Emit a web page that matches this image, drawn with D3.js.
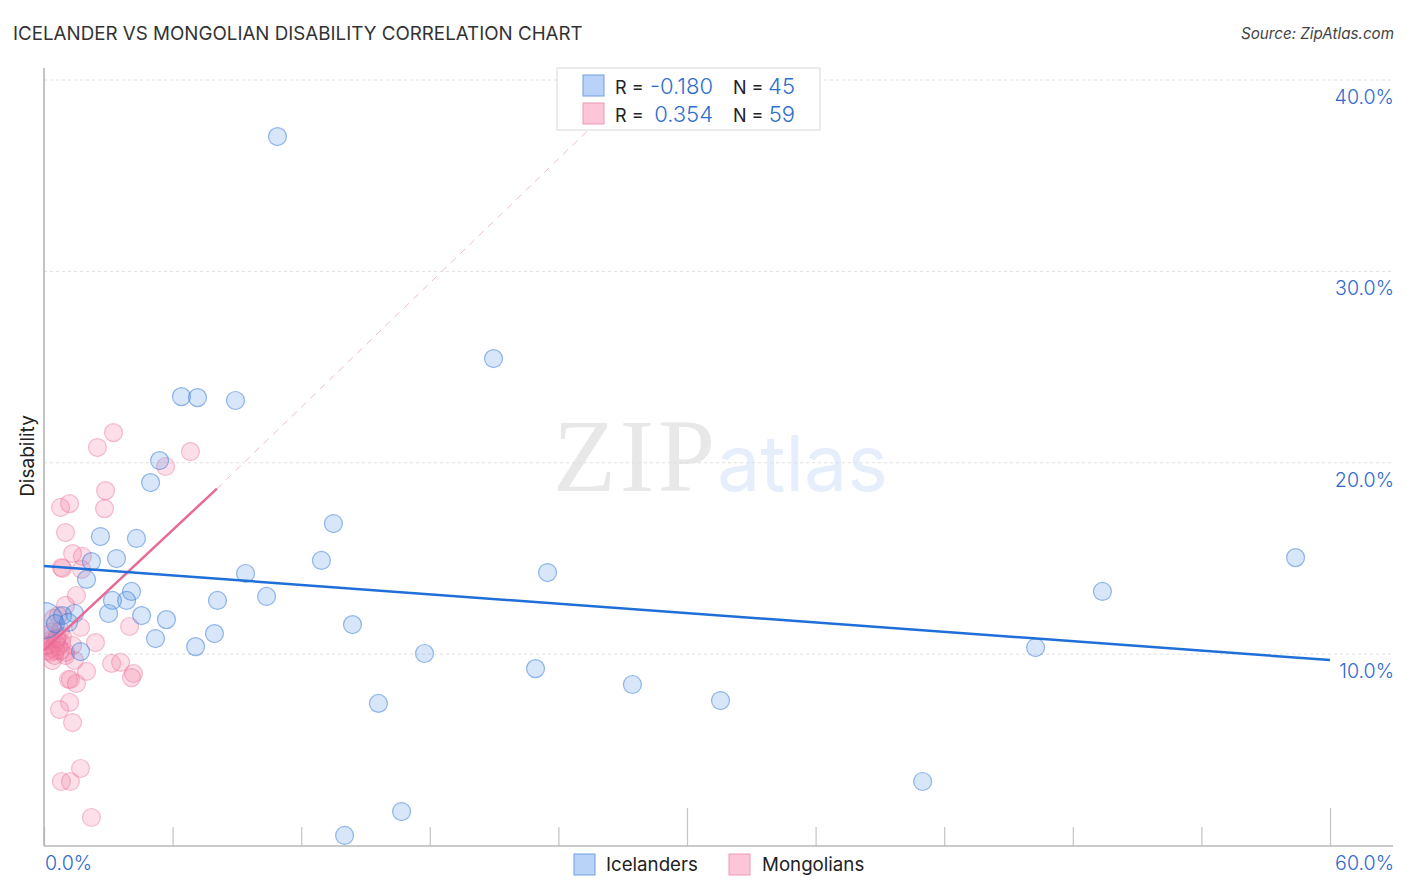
<!DOCTYPE html>
<html>
<head>
	<meta charset="utf-8" />
	<title>Icelander vs Mongolian Disability</title>
	<style type="text/css">
	*{margin:0px;padding:0px;}
	body{background:#fff;}
	svg{display:block;font-family:Inter,"Noto Sans",sans-serif;}
	</style>
</head>
<body>
	<div id="chart"></div>
	<script src="https://cdn.jsdelivr.net/npm/d3@7"></script>
	<script type="text/javascript">
	// values, in percent
	var iceX = [10.87,20.95,6.39,7.14,8.91,5.37,4.95,13.48,2.61,4.29,3.36,2.19,12.92,1.96,9.38,23.47,58.37,49.36,4.06,3.17,3.83,8.07,10.36,2.99,4.53,5.69,1.40,14.37,7.93,5.18,7.05,17.73,22.91,46.24,27.43,31.54,15.58,40.97,16.66,14.00,1.68,0.0,0.84,0.51,1.12];
	var iceY = [37.07,25.47,23.48,23.43,23.28,20.14,18.99,16.85,16.17,16.07,15.02,14.86,14.92,13.93,14.24,14.29,15.07,13.30,13.30,12.83,12.83,12.83,13.04,12.15,12.04,11.83,12.15,11.57,11.10,10.84,10.42,10.06,9.27,10.37,8.44,7.60,7.45,3.37,1.80,0.55,10.16,11.78,12.04,11.62,11.68];
	var monX = [3.22,2.47,5.65,6.81,2.85,1.17,0.75,2.80,0.98,1.31,1.77,0.79,0.84,1.73,1.49,0.98,1.68,3.97,2.38,3.13,3.55,4.15,4.06,1.96,1.12,1.21,1.49,1.17,0.70,1.31,1.68,0.79,1.21,2.19,0.37,0.98,1.40,0.42,0.65,0.75,0.84,0.28,0.19,0.37,0.51,0.09,0.14,0.28,0.51,0.65,0.98,1.31,0.80,0.60,0.28,0.47,0.09,0.75,0.56];
	var monY = [21.60,20.82,19.83,20.61,18.57,17.89,17.69,17.63,16.38,15.28,15.13,14.55,14.50,14.45,13.09,12.57,11.42,11.47,10.63,9.54,9.59,9.01,8.80,9.12,8.70,8.70,8.49,7.50,7.13,6.45,4.05,3.37,3.37,1.49,9.69,9.95,9.69,11.89,12.04,11.26,10.95,10.74,10.48,10.32,10.21,11.00,10.21,11.16,10.63,10.42,10.11,10.48,10.60,10.90,10.11,9.95,10.48,10.21,10.84];
	var iceTrend = [[0,14.6],[60,9.69]];
	var monTrend = [[0,10.2],[8.07,18.65]];
	var monDash = [[8.07,18.65],[28,40.2]];
	var xTicks = [0,6,12,18,24,30,36,42,48,54,60];
	var yTicks = [10,20,30,40];

	var width = 1406, height = 892;
	var x = d3.scaleLinear().domain([0,60]).range([44,1330]);
	var y = d3.scaleLinear().domain([0,40]).range([845.5,80]);

	var svg = d3.select("#chart").append("svg").attr("width",width).attr("height",height);

	svg.append("clipPath").attr("id","plot").append("rect")
		.attr("x",44).attr("y",68).attr("width",1349).attr("height",778);

	// watermark
	svg.append("text").attr("x",553).attr("y",491).attr("font-family","Liberation Serif")
		.attr("font-size",103).attr("fill","#e8e8e8").attr("textLength",162).text("ZIP");
	svg.append("text").attr("x",717).attr("y",491).attr("font-family","Inter")
		.attr("font-size",77).attr("fill","#e6eefb").text("atlas");

	// gridlines
	svg.selectAll(".grid").data(yTicks).enter().append("line")
		.attr("x1",44).attr("x2",1393)
		.attr("y1",function(d){return y(d);}).attr("y2",function(d){return y(d);})
		.attr("stroke","#e0e0e0").attr("stroke-dasharray","3,3");

	// axes
	var xAxis = d3.axisBottom(x).tickValues(xTicks).tickSize(-19).tickFormat("");
	var gx = svg.append("g").attr("transform","translate(0,846)").call(xAxis);
	gx.select(".domain").remove();
	gx.selectAll("line").attr("stroke","#c4c4c4").attr("stroke-width",1.2);
	gx.selectAll(".tick line").attr("y2",function(d){return (d==30||d==60)?-38:-19;});
	svg.append("line").attr("x1",44).attr("x2",1393).attr("y1",846).attr("y2",846).attr("stroke","#b8b8b8").attr("stroke-width",1.5);
	svg.append("line").attr("x1",44).attr("x2",44).attr("y1",68).attr("y2",846).attr("stroke","#b0b0b0").attr("stroke-width",1.5);

	var line = d3.line().x(function(d){return x(d[0]);}).y(function(d){return y(d[1]);});

	// points
	var plot = svg.append("g").attr("clip-path","url(#plot)");
	var dots = plot.append("g").attr("transform","translate(0.5,0.5)");
	dots.selectAll(".mon").data(monX).enter().append("circle")
		.attr("cx",function(d){return x(d);})
		.attr("cy",function(d,i){return y(monY[i]);})
		.attr("r",9)
		.attr("fill","rgba(244,120,160,.24)").attr("stroke","rgba(236,110,150,.42)").attr("stroke-width",1.2);
	dots.selectAll(".ice").data(iceX).enter().append("circle")
		.attr("cx",function(d){return x(d);})
		.attr("cy",function(d,i){return y(iceY[i]);})
		.attr("r",function(d){return d==0?18:9;})
		.attr("fill","rgba(90,150,230,.24)").attr("stroke","rgba(50,120,215,.5)").attr("stroke-width",1.2);

	// trend lines
	svg.append("path").attr("d",line(monDash)).attr("fill","none").attr("stroke","#f0bccd").attr("stroke-dasharray","7,6");
	svg.append("path").attr("d",line(monTrend)).attr("fill","none").attr("stroke","#ea6a96").attr("stroke-width",2.5);
	svg.append("path").attr("d",line(iceTrend)).attr("fill","none").attr("stroke","#1f6fd8").attr("stroke-width",2.5);

	// tick labels
	svg.selectAll(".yl").data(yTicks).enter().append("text")
		.attr("x",1394).attr("y",function(d){return y(d)+24;})
		.attr("text-anchor","end").attr("font-size",19.6).attr("font-weight",300).attr("fill","#2f69d0")
		.text(function(d){return d.toFixed(1)+"%";});
	svg.append("text").attr("x",45).attr("y",870).attr("font-size",19.6).attr("font-weight",300).attr("fill","#2f69d0").text("0.0%");
	svg.append("text").attr("x",1394).attr("y",870).attr("text-anchor","end").attr("font-size",19.6).attr("font-weight",300).attr("fill","#2f69d0").text("60.0%");

	// titles
	svg.append("text").attr("x",13).attr("y",40).attr("font-size",18.75).attr("fill","#333").text("ICELANDER VS MONGOLIAN DISABILITY CORRELATION CHART");
	svg.append("text").attr("x",1394).attr("y",39).attr("text-anchor","end").attr("font-size",15.2).attr("font-style","italic").attr("fill","#444").text("Source: ZipAtlas.com");
	svg.append("text").attr("transform","translate(34,456) rotate(-90)").attr("text-anchor","middle").attr("font-size",19).attr("fill","#222").text("Disability");

	// top legend
	svg.append("rect").attr("x",557).attr("y",68).attr("width",263).attr("height",62).attr("fill","#fff").attr("stroke","#dedede").attr("stroke-width",1.2);
	var rows = [["-0.180","45","#b9d3f8","#6f9fe0",86],["0.354","59","#fcc6d8","#ee9ab5",114]];
	rows.forEach(function(r){
		svg.append("rect").attr("x",583).attr("y",r[4]-11).attr("width",21).attr("height",21).attr("fill",r[2]).attr("stroke",r[3]);
		svg.append("text").attr("x",615).attr("y",r[4]+8).attr("font-size",18).attr("fill","#222").text("R =");
		svg.append("text").attr("x",713).attr("y",r[4]+8).attr("text-anchor","end").attr("font-size",22).attr("font-weight",300).attr("fill","#2f6fd0").text(r[0]);
		svg.append("text").attr("x",733).attr("y",r[4]+8).attr("font-size",18).attr("fill","#222").text("N =");
		svg.append("text").attr("x",795).attr("y",r[4]+8).attr("text-anchor","end").attr("font-size",22).attr("font-weight",300).attr("fill","#2f6fd0").text(r[1]);
	});

	// bottom legend
	var bottom = [["Icelanders",574,606,"#b9d3f8","#6f9fe0"],["Mongolians",729,762,"#fcc6d8","#ee9ab5"]];
	bottom.forEach(function(b){
		svg.append("rect").attr("x",b[1]).attr("y",854).attr("width",21).attr("height",21).attr("fill",b[3]).attr("stroke",b[4]);
		svg.append("text").attr("x",b[2]).attr("y",871).attr("font-size",18.7).attr("fill","#222").text(b[0]);
	});
	</script>
</body>
</html>
